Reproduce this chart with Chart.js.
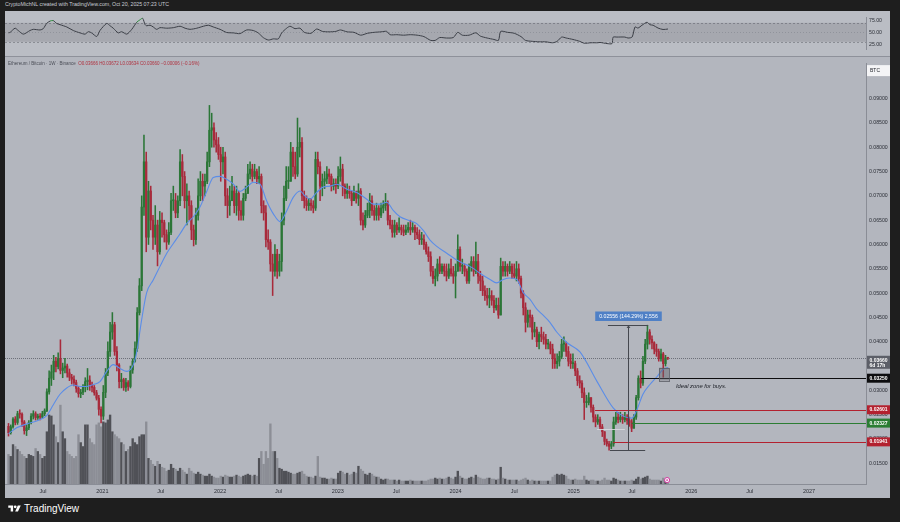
<!DOCTYPE html>
<html><head><meta charset="utf-8">
<script src="https://cdn.jsdelivr.net/npm/chart.js@4.4.1/dist/chart.umd.min.js"></script>
<style>
html,body{margin:0;padding:0;background:#1e1e1e;width:900px;height:522px;overflow:hidden;font-family:"Liberation Sans",Arial,sans-serif}
.pane{position:absolute;background:#b3b6be}
.tiny{position:absolute;transform:scale(0.5);transform-origin:0 0;white-space:nowrap}
#hdr{left:5px;top:1px;font-size:10.5px;color:#c9ccd4}
#title{left:8px;top:61px;font-size:9px;color:#4b4e57}
#title .r{color:#b0303e}
#footer{position:absolute;left:8px;top:503px;color:#fff;font-size:10px;display:flex;align-items:center;gap:3px}
#sep{position:absolute;left:5px;top:56px;width:885px;height:1px;background:#8e919a}
</style></head>
<body>
<div id="hdr" class="tiny">CryptoMichNL created with TradingView.com, Oct 20, 2025 07:23 UTC</div>
<div class="pane" style="left:5px;top:11px;width:885px;height:45px;background:#babdc4"><canvas id="rsi" width="885" height="45"></canvas></div>
<div id="sep"></div>
<div class="pane" style="left:5px;top:57px;width:885px;height:441px"><canvas id="main" width="885" height="441"></canvas></div>
<div id="title" class="tiny">Ethereum / Bitcoin · 1W · Binance &nbsp;<span class="r">O0.03666 H0.03672 L0.03634 C0.03660 −0.00006 (−0.16%)</span></div>
<div id="footer"><svg width="13" height="9" viewBox="0 0 36 26"><path d="M14 22H7V11H0V4h14v18z" fill="#fff"/><circle cx="20" cy="8" r="4" fill="#fff"/><path d="M28 22h-8l7.5-18H36z" fill="#fff"/></svg><span>TradingView</span></div>
<script>
// ---- weekly candles ETH/BTC, values in units of 0.0001 BTC, first week = 2020-03-16 ----
const firstOpen = 226;
const close2020 = [213,225,241,234,252,251,235,217,223,234,247,252,244,247,245,252,258,297,325,338,360,349,365,341,346,350,336,327,323,316,304,293,296,307,318,321,311,306,295,284,261,247];
const high2020  = [232,229,244,246,257,260,254,238,229,238,252,258,256,251,252,257,262,303,340,352,372,368,377,404,356,366,354,344,333,330,321,308,302,312,326,345,330,317,310,300,290,266];
const low2020   = [206,210,222,229,230,243,226,210,207,219,231,241,239,240,239,242,248,256,292,310,322,338,344,334,326,336,327,320,313,309,296,286,285,291,297,301,300,297,290,280,249,233];
const close2021 = [296,336,380,420,435,380,352,318,322,306,316,308,342,360,386,460,515,677,770,615,710,650,615,640,585,650,645,620,605,625,690,690,665,690,770,740,690,700,680,630,610,660,700,730,720,730,770,835,840,815,805,785];
const high2021  = [310,345,400,440,460,440,390,355,335,325,325,320,350,365,400,470,530,700,825,790,730,720,660,680,650,668,665,650,630,645,705,720,705,700,795,785,750,725,710,690,640,675,735,750,745,745,790,886,870,850,830,820];
const low2021   = [240,285,330,370,405,372,340,305,305,300,298,300,305,335,358,380,455,505,660,585,600,630,590,600,556,580,615,605,590,600,620,670,655,655,680,700,675,640,650,610,597,600,650,690,690,700,725,760,800,800,790,775];
const close2022 = [770,780,700,680,690,710,680,705,670,660,695,705,745,755,740,750,735,740,680,665,610,605,560,545,580,545,565,650,695,730,730,790,760,745,800,810,700,690,680,685,680,675,775,760,720,730,735,745,740,720,725,720];
const high2022  = [800,800,790,715,720,740,720,720,710,690,705,720,765,770,765,765,755,760,745,690,680,630,610,580,600,590,580,665,720,760,760,810,800,790,860,840,820,710,700,695,695,690,790,790,770,745,750,760,755,745,735,735];
const low2022   = [730,745,680,655,660,690,665,660,650,650,650,690,705,735,730,735,725,725,665,650,595,590,545,495,535,530,535,545,640,690,715,730,740,735,740,780,690,675,670,670,670,665,670,745,690,700,715,725,725,710,712,705];
const close2023 = [740,755,720,705,710,705,690,705,695,710,650,640,660,670,690,670,660,675,660,675,680,685,650,640,625,640,630,635,630,625,630,635,630,635,625,620,610,610,600,585,575,545,530,535,560,545,555,545,535,550,540,535];
const high2023  = [760,780,765,725,725,720,710,720,710,725,715,665,670,685,705,700,680,685,680,685,690,705,690,660,650,650,645,655,640,640,640,645,650,645,640,635,630,625,620,605,595,585,555,550,570,575,560,560,560,560,570,555];
const low2023   = [715,730,700,695,695,695,680,690,685,680,640,630,635,655,655,660,650,650,650,655,665,670,640,632,615,615,620,625,620,618,620,625,620,625,610,612,600,600,590,580,565,535,520,515,525,540,540,535,525,530,535,520];
const close2024 = [545,590,555,555,545,525,555,565,545,565,535,525,505,495,490,495,485,470,475,455,555,545,555,545,555,540,535,550,530,500,470,440,455,450,420,425,400,415,410,405,395,395,385,365,355,360,370,395,395,380,360,355,355];
const high2024  = [560,620,595,570,560,550,560,575,575,605,580,545,535,515,510,510,505,495,490,490,572,565,565,560,565,560,560,565,560,535,505,480,465,465,455,440,430,420,430,420,415,405,400,395,375,375,380,405,410,400,390,375,375];
const low2024   = [490,545,545,540,535,520,520,545,535,540,520,505,495,485,475,470,475,460,465,448,455,535,535,535,540,530,530,525,520,490,455,420,430,430,405,410,390,385,400,395,385,385,375,345,345,345,350,365,380,370,350,345,345];
const close2025 = [340,320,315,295,275,275,285,265,245,235,240,225,215,195,190,185,190,235,245,240,245,240,245,238,235,222,245,285,325,315,360,395,420,405,398,385,380,365,375,355,366.6,366.0];
const high2025  = [360,345,330,320,305,290,295,285,270,250,250,245,230,215,200,195,195,245,255,255,255,250,255,250,245,240,250,290,330,340,370,405,434,425,412,400,395,385,385,378,372,367.2];
const low2025   = [330,310,305,285,240,265,270,255,235,225,230,220,205,188,185,177,180,185,230,233,235,232,235,230,226,215,222,240,280,305,310,355,385,395,385,375,370,360,360,327,350,363.4];
// weekly volume (thousand ETH)
const vol2020 = [300,280,400,380,350,330,300,280,260,300,290,280,360,330,300,260,280,530,700,690,600,480,420,800,530,460,330,300,280,260,280,500,420,380,600,600,460,420,400,600,620,580];
const vol2021 = [630,620,650,700,530,500,480,460,420,400,330,350,380,460,420,400,480,500,500,630,260,240,200,180,230,200,170,160,130,140,200,160,150,130,160,140,120,100,160,130,110,100,120,100,90,80,80,100,80,70,60,60];
const vol2022 = [80,70,90,80,70,70,80,90,80,70,80,90,100,90,80,90,80,260,330,200,330,260,610,330,330,260,160,150,130,130,120,110,100,100,110,120,130,100,80,70,70,60,80,280,70,60,60,50,50,60,50,50];
const vol2023 = [110,130,120,100,110,90,100,120,110,180,150,130,100,90,110,100,80,70,70,50,40,50,50,40,40,40,30,40,30,30,30,30,40,30,30,30,30,30,30,30,40,50,50,60,50,60,50,50,60,70,60,50];
const vol2024 = [70,130,80,60,50,50,60,70,60,90,70,60,50,50,60,60,50,50,40,50,170,60,50,40,40,40,40,40,30,40,50,60,40,30,40,30,30,30,30,30,30,30,30,70,90,100,90,100,90,80,50,40,40];
const vol2025 = [50,40,40,40,80,40,30,40,40,30,30,30,40,60,40,40,30,60,50,40,30,30,30,30,30,40,30,50,70,50,60,70,80,50,40,40,40,40,30,60,30,10];
// 20-week moving average (week index, price x1e-4)
const maWeeks = [0,3.6,8.1,12.5,14,16.9,19.8,22.8,25.8,28.7,31.7,34.6,37.6,40.5,43.5,46.4,49.4,52.4,55.3,56.8,59,61.2,64.1,67.1,70.1,73,76,78.9,81.9,84.8,87.8,90.7,93.7,96.6,99.6,102.5,105.5,108.4,111.4,114.4,117.3,120.3,123.2,126.1,129.1,131.3,133.5,136.5,139.4,142.4,145.4,149.8,154.2,158.7,161.6,164.5,167.5,170.4,173.4,177.8,180.8,183.7,186.7,189.7,194.1,198.5,201.4,204.4,208.8,213.3,216.2,219.2,222.1,225.1,228,231,234,236.9,239.8,242.8,247.4,253.1,260.7,267.8,272.2,276.2,278.4,281,284.1,287.2,289.9,292.1];
const maVals  = [211,223,231,237,240,248,270,292,305,311,308,308,312,318,339,353,345,339,353,379,446,501,527,555,582,602,622,643,657,677,709,738,740,734,724,709,718,728,724,689,663,647,669,697,710,700,693,707,718,720,724,714,707,693,683,683,687,670,657,649,643,629,609,596,582,568,561,555,541,528,521,528,531,528,501,487,467,454,440,420,398,379,318,264,247,243,261,292,312,328,343,347];
// RSI(14)
const rsiWeeks = [0,0.7,2.9,4.3,6.6,9.5,11,14,15.4,16.9,18.4,19.8,21.3,22.8,25.8,28.7,31.7,33.9,35.4,36.8,39.1,40.5,43.5,45,46.4,48.6,50.1,52.4,54.6,56.8,58.2,59.4,60.5,61.2,62.7,64.1,65.6,67.1,70.1,73,76,78.2,80.4,83.4,86.3,88.5,90.7,93.7,96.6,99.6,102.5,105.5,108.4,110.6,112.9,115.1,117.3,119.5,121,123.2,124.7,126.9,129.1,131,134,136.5,139,142,145,147,150,153,156,159,162,165,167.5,169,172,175,178,181,184,187,189,191,194,197,199,201,204,207,209,212,215,217,218,221,224,227,229,232,235,238,241,243,245,247,250,253,255,258,261,262,265.1,267.3,267.8,269.5,273,274.4,276.2,277.5,278.8,280.6,282.8,284.1,285.5,287.7,289.9,292.1];
const rsiVals  = [49,49.8,58.7,53.8,46.2,53.8,56.3,55,57.8,68.8,73.7,74.8,68.8,66.2,61.3,53.8,48.8,46.2,51.3,48.8,41.3,53.8,68.8,63.8,58.7,48.8,51.3,46.2,56.3,71.3,76.3,79.7,66.2,63.8,65,61.3,56.3,59.8,58.7,59.8,62.8,58.7,56.3,58.7,62.8,65,61.3,56.3,49.7,48.8,47.3,55,53.8,48.8,38.7,33.8,36.2,36.2,48.8,58.7,62.8,57.8,58.7,50,48,57,52,51,52,55,51,50,44,48,50,51,52,45,45,44,45,44,41,33,33,39,38,39,50,44,44,49,42,38,35,33,52,50,48,41,33,31,30,30,28,31,40,38,35,31,27,28,28,28.7,26.3,26.3,39.8,40,40,38,40,61.3,59,65,71.3,66,65,59,56,57];
// axis ticks
const timeTickDates  = ['2020-07-01','2021-01-01','2021-07-01','2022-01-01','2022-07-01','2023-01-01','2023-07-01','2024-01-01','2024-07-01','2025-01-01','2025-07-01','2026-01-01','2026-07-01','2027-01-01'];
const timeTickLabels = ['Jul','2021','Jul','2022','Jul','2023','Jul','2024','Jul','2025','Jul','2026','Jul','2027'];
const priceTicks = [0.015,0.02,0.025,0.03,0.035,0.04,0.045,0.05,0.055,0.06,0.065,0.07,0.075,0.08,0.085,0.09];
const rsiTicks = [25,50,75];
// drawn levels / annotations
const lastPrice = 0.0366;
const levelPrices = [0.0325,0.02601,0.02327,0.01941];
const levelLabels = ['0.03250','0.02601','0.02327','0.01941'];
const levelColors = ['#0d0d0f','#b3212f','#2b7d33','#b3212f'];
const levelFromWeek = [280.2,259.8,276,267.8];
const measureWeek = 274.4, measureHigh = 0.0434, measureLow = 0.01765;
const zoneWeeks = [288.1,292.6], zonePrices = [0.03467,0.03203];

// ---------- build ----------
const U = 1e-4;
const closes = [...close2020,...close2021,...close2022,...close2023,...close2024,...close2025].map(v=>v*U);
const highs  = [...high2020,...high2021,...high2022,...high2023,...high2024,...high2025].map(v=>v*U);
const lows   = [...low2020,...low2021,...low2022,...low2023,...low2024,...low2025].map(v=>v*U);
const vols   = [...vol2020,...vol2021,...vol2022,...vol2023,...vol2024,...vol2025];
const opens  = closes.map((c,i)=> i===0 ? firstOpen*U : closes[i-1]);
const up = closes.map((c,i)=> c >= opens[i]);
const UPC = '#2b7637', DNC = '#a82a3b';
const candleColors = up.map(u=> u?UPC:DNC);
const START_MS = Date.UTC(2020,2,16);
const tickWeeks = timeTickDates.map(d => (Date.parse(d)-START_MS)/(7*864e5));
const XMIN = -1.55, XMAX = 379.8;
const FONT = '"Liberation Sans", Arial, sans-serif';
Chart.defaults.font.family = FONT;

const annot = {
  id:'annot',
  beforeDatasetsDraw(chart){
    const {ctx, chartArea:a, scales:{x,y}} = chart;
    ctx.save();
    ctx.strokeStyle='rgba(85,88,98,0.75)'; ctx.lineWidth=1; ctx.setLineDash([1,1]);
    const py = Math.round(y.getPixelForValue(lastPrice))+0.5;
    ctx.beginPath(); ctx.moveTo(a.left,py); ctx.lineTo(a.right,py); ctx.stroke();
    ctx.restore();
  },
  afterDatasetsDraw(chart){
    const {ctx, chartArea:a, scales:{x,y}} = chart;
    ctx.save();
    ctx.strokeStyle='rgba(215,216,222,0.9)'; ctx.lineWidth=1;
    let fy = Math.round(y.getPixelForValue(0.0221))+0.5;
    ctx.beginPath(); ctx.moveTo(x.getPixelForValue(260.7),fy); ctx.lineTo(x.getPixelForValue(273),fy); ctx.stroke();
    levelPrices.forEach((p,k)=>{
      const ly = Math.round(y.getPixelForValue(p))+0.5;
      ctx.strokeStyle=levelColors[k]; ctx.lineWidth=1;
      ctx.beginPath(); ctx.moveTo(x.getPixelForValue(levelFromWeek[k]),ly); ctx.lineTo(a.right,ly); ctx.stroke();
    });
    const mx = Math.round(x.getPixelForValue(measureWeek))+0.5;
    const mt = Math.round(y.getPixelForValue(measureHigh))+0.5, mb = Math.round(y.getPixelForValue(measureLow))+0.5;
    ctx.strokeStyle='#45484f'; ctx.lineWidth=1;
    ctx.beginPath();
    ctx.moveTo(mx,mt); ctx.lineTo(mx,mb);
    ctx.moveTo(x.getPixelForValue(265.5),mt); ctx.lineTo(x.getPixelForValue(283.3),mt);
    ctx.moveTo(x.getPixelForValue(266.4),mb); ctx.lineTo(x.getPixelForValue(282),mb);
    ctx.moveTo(mx-1.5,mt+2.5); ctx.lineTo(mx,mt+0.5); ctx.lineTo(mx+1.5,mt+2.5);
    ctx.stroke();
    const lbl='0.02556 (144.29%) 2,556';
    ctx.font='5.2px '+FONT;
    const tw = ctx.measureText(lbl).width + 8;
    ctx.fillStyle='#4f80c6';
    const by = mt - 14;
    ctx.fillRect(mx - tw/2, by, tw, 9.5);
    ctx.fillStyle='#ffffff'; ctx.textAlign='center'; ctx.textBaseline='middle';
    ctx.fillText(lbl, mx, by+4.9);
    const zx0=x.getPixelForValue(zoneWeeks[0]), zx1=x.getPixelForValue(zoneWeeks[1]);
    const zy0=y.getPixelForValue(zonePrices[0]), zy1=y.getPixelForValue(zonePrices[1]);
    ctx.fillStyle='rgba(95,97,105,0.45)'; ctx.fillRect(zx0,zy0,zx1-zx0,zy1-zy0);
    ctx.strokeStyle='rgba(90,92,100,0.8)'; ctx.strokeRect(Math.round(zx0)+0.5,Math.round(zy0)+0.5,Math.round(zx1-zx0),Math.round(zy1-zy0));
    ctx.fillStyle='#1c1f26'; ctx.textAlign='left'; ctx.textBaseline='middle';
    ctx.font='italic 5.8px '+FONT;
    ctx.fillText('Ideal zone for buys.', x.getPixelForValue(295.6), y.getPixelForValue(0.0308));
    const ex=x.getPixelForValue(291.7), ey=y.getPixelForValue(0.01155);
    ctx.beginPath(); ctx.arc(ex,ey,2.6,0,Math.PI*2); ctx.fillStyle='#f4f0f6'; ctx.fill();
    ctx.strokeStyle='#d43aa0'; ctx.lineWidth=1; ctx.stroke();
    ctx.beginPath(); ctx.arc(ex,ey,0.9,0,Math.PI*2); ctx.fillStyle='#d43aa0'; ctx.fill();
    ctx.restore();
  },
  afterDraw(chart){
    const {ctx, chartArea:a, scales:{y}} = chart;
    ctx.save();
    const L = a.right+1, W = 23;
    function tag(py, h, bg, lines, fg, topOff){
      ctx.fillStyle=bg; ctx.fillRect(L, py-topOff, W, h);
      ctx.fillStyle=fg; ctx.font='bold 5px '+FONT; ctx.textAlign='left'; ctx.textBaseline='middle';
      lines.forEach((t,k)=>ctx.fillText(t, L+2.5, py - topOff + 4.6 + k*5.6));
    }
    levelPrices.forEach((p,k)=> tag(y.getPixelForValue(p), 9, levelColors[k], [levelLabels[k]], '#fff', 4.5));
    tag(y.getPixelForValue(lastPrice), 13, '#5c5f68', ['0.03660','6d 17h'], '#fff', 2.5);
    ctx.fillStyle='#f4f4f6'; ctx.fillRect(L, a.top+2, W, 11);
    ctx.fillStyle='#1c1f26'; ctx.font='5px '+FONT; ctx.textAlign='left'; ctx.textBaseline='middle';
    ctx.fillText('BTC', L+3, a.top+7.8);
    ctx.restore();
  }
};

new Chart(document.getElementById('main'), {
  type:'bar',
  data:{ datasets:[
    { type:'bar', label:'Volume', yAxisID:'yv', order:5, grouped:false, barThickness:1.7,
      data: vols.map((v,i)=>({x:i,y:v})),
      backgroundColor: up.map(u=> u?'rgba(72,73,78,0.92)':'rgba(138,140,148,0.95)') },
    { type:'bar', label:'Wick', yAxisID:'y', order:3, grouped:false, barThickness:0.9,
      data: lows.map((l,i)=>({x:i,y:[Math.min(l,opens[i],closes[i]),Math.max(highs[i],opens[i],closes[i])]})),
      backgroundColor: candleColors },
    { type:'bar', label:'Body', yAxisID:'y', order:2, grouped:false, barThickness:1.6, minBarLength:1,
      data: closes.map((c,i)=>({x:i,y:[opens[i],c]})),
      backgroundColor: candleColors },
    { type:'line', label:'MA', yAxisID:'y', order:1,
      data: maWeeks.map((w,k)=>({x:w,y:maVals[k]*U})),
      borderColor:'#5b8de8', borderWidth:1.1, pointRadius:0, cubicInterpolationMode:'monotone' }
  ]},
  options:{
    responsive:false, animation:false, events:[],
    layout:{padding:0, autoPadding:false},
    plugins:{legend:{display:false}, tooltip:{enabled:false}},
    scales:{
      x:{ type:'linear', min:XMIN, max:XMAX, offset:false,
          grid:{display:false, drawTicks:false}, border:{display:true,color:'#8a8d96'},
          afterBuildTicks:s=>{ s.ticks = tickWeeks.map(v=>({value:v})); },
          afterFit:s=>{ s.height = 14; },
          ticks:{ autoSkip:false, maxRotation:0, padding:4, color:'#2c2f37', font:{size:5.5},
                  callback:(v,idx)=>timeTickLabels[idx] } },
      y:{ type:'linear', position:'right', min:0.010743, max:0.0973,
          grid:{display:false, drawTicks:false}, border:{display:true,color:'#8a8d96'},
          afterBuildTicks:s=>{ s.ticks = priceTicks.map(v=>({value:v})); },
          afterFit:s=>{ s.width = 24; },
          ticks:{ padding:3, color:'#2c2f37', font:{size:5.2}, callback:v=>v.toFixed(5) } },
      yv:{ type:'linear', display:false, min:0, max:4270 }
    }
  },
  plugins:[annot]
});

const rsiPlugin = {
  id:'rsiBand',
  beforeDatasetsDraw(chart){
    const {ctx, chartArea:a, scales:{y}} = chart;
    const y70=y.getPixelForValue(70), y30=y.getPixelForValue(30), y50=y.getPixelForValue(50);
    ctx.save();
    ctx.fillStyle='rgba(60,62,70,0.16)'; ctx.fillRect(a.left,y70,a.right-a.left,y30-y70);
    ctx.strokeStyle='rgba(80,83,92,0.45)'; ctx.lineWidth=1; ctx.setLineDash([2,2]);
    [y70,y30].forEach(v=>{ctx.beginPath(); ctx.moveTo(a.left,Math.round(v)+0.5); ctx.lineTo(a.right,Math.round(v)+0.5); ctx.stroke();});
    ctx.strokeStyle='rgba(80,83,92,0.25)'; ctx.setLineDash([1,2]);
    ctx.beginPath(); ctx.moveTo(a.left,Math.round(y50)+0.5); ctx.lineTo(a.right,Math.round(y50)+0.5); ctx.stroke();
    ctx.restore();
  }
};
new Chart(document.getElementById('rsi'), {
  type:'line',
  data:{ datasets:[{ label:'RSI', data: rsiWeeks.map((w,k)=>({x:w,y:rsiVals[k]})),
    borderColor:'#3b3e46', borderWidth:1, pointRadius:0, tension:0.25,
    segment:{ borderColor: c => (c.p0.parsed.y>70 && c.p1.parsed.y>70) ? '#2e8b3c' : '#3b3e46' } }]},
  options:{
    responsive:false, animation:false, events:[],
    layout:{padding:0, autoPadding:false},
    plugins:{legend:{display:false}, tooltip:{enabled:false}},
    scales:{
      x:{ type:'linear', min:XMIN, max:XMAX, display:false },
      y:{ type:'linear', position:'right', min:13, max:82.06,
          grid:{display:false, drawTicks:false}, border:{display:true,color:'#8a8d96'},
          afterBuildTicks:s=>{ s.ticks = rsiTicks.map(v=>({value:v})); },
          afterFit:s=>{ s.width = 24; },
          ticks:{ padding:3, color:'#2c2f37', font:{size:5.2}, callback:v=>v.toFixed(2) } }
    }
  },
  plugins:[rsiPlugin]
});
</script>
</body></html>
